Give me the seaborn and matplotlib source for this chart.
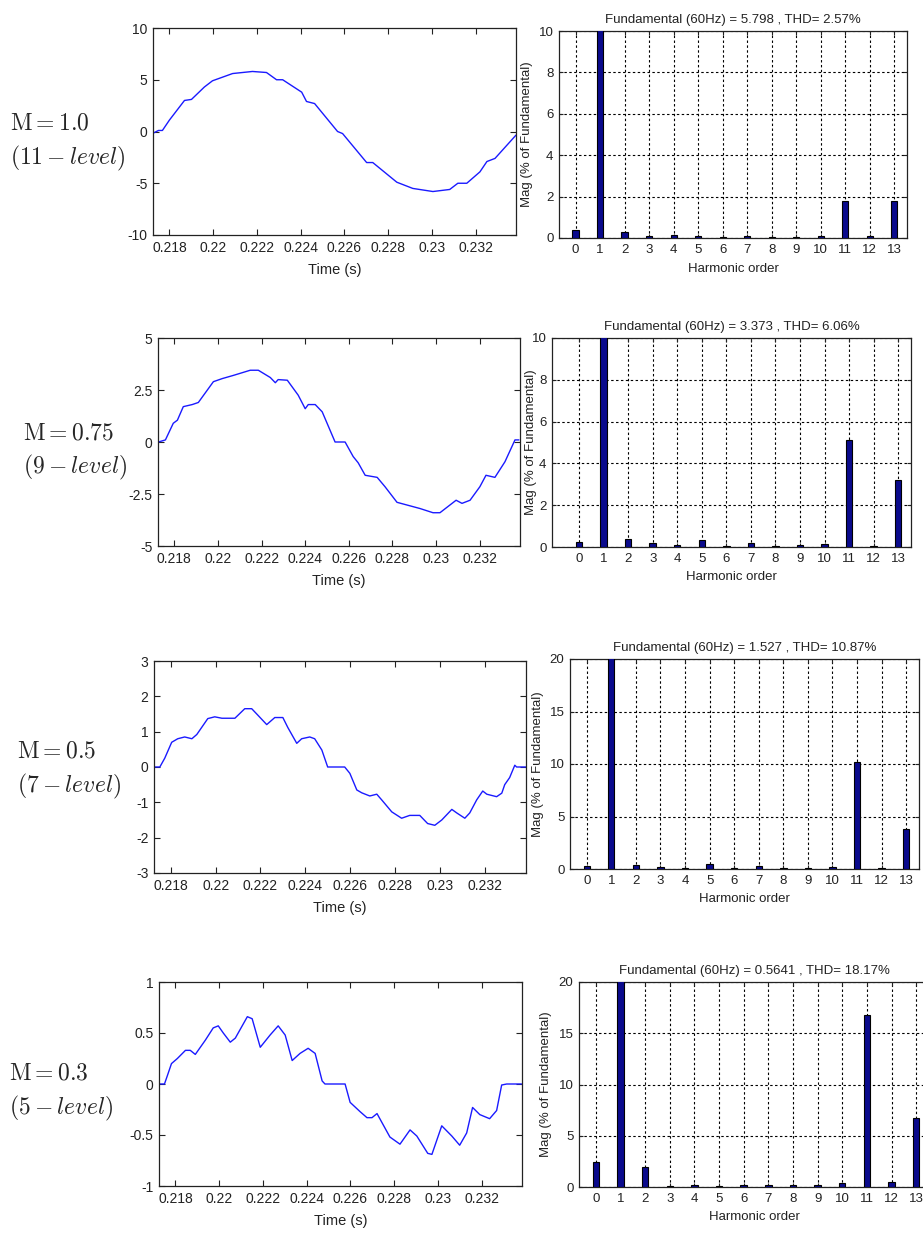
import matplotlib
matplotlib.use("Agg")
import matplotlib.pyplot as plt
import numpy as np
import pandas as pd
import seaborn as sns

# ---------------------------------------------------------------------------
# Output voltage over one fundamental cycle (time in s, voltage)
# ---------------------------------------------------------------------------
t_m100 = [0.21722, 0.21750, 0.21768, 0.21800, 0.21869, 0.21901, 0.21960, 0.21997,
          0.22089, 0.22180, 0.22244, 0.22290, 0.22318, 0.22405, 0.22427, 0.22464,
          0.22569, 0.22592, 0.22702, 0.22730, 0.22840, 0.22913, 0.23005, 0.23082,
          0.23119, 0.23160, 0.23220, 0.23252, 0.23289, 0.23385]
v_m100 = [-0.2, 0.1, 0.1, 1.1, 3.0, 3.1, 4.3, 4.9,
          5.6, 5.8, 5.7, 5.0, 5.0, 3.8, 2.9, 2.7,
          0.0, -0.2, -3.0, -3.0, -4.9, -5.5, -5.8, -5.6,
          -5.0, -5.0, -3.9, -2.9, -2.6, -0.35]

t_m075 = [0.21727, 0.21759, 0.21795, 0.21814, 0.21841, 0.21882, 0.21910, 0.21979,
          0.22020, 0.22070, 0.22148, 0.22185, 0.22240, 0.22263, 0.22276, 0.22318,
          0.22368, 0.22400, 0.22414, 0.22446, 0.22478, 0.22537, 0.22583, 0.22620,
          0.22643, 0.22675, 0.22730, 0.22766, 0.22821, 0.22927, 0.22986, 0.23018,
          0.23055, 0.23092, 0.23119, 0.23156, 0.23201, 0.23229, 0.23270, 0.23316,
          0.23362, 0.23380]
v_m075 = [0.0, 0.1, 0.9, 1.05, 1.7, 1.8, 1.9, 2.9,
          3.05, 3.2, 3.45, 3.45, 3.1, 2.85, 3.0, 2.97,
          2.25, 1.6, 1.8, 1.8, 1.45, 0.0, 0.0, -0.7,
          -1.0, -1.6, -1.7, -2.15, -2.9, -3.2, -3.4, -3.4,
          -3.1, -2.8, -2.95, -2.8, -2.15, -1.6, -1.7, -0.95,
          0.1, 0.1]

t_m050 = [0.21729, 0.21751, 0.21773, 0.21804, 0.21831, 0.21862, 0.21894, 0.21916,
          0.21965, 0.21996, 0.22028, 0.22086, 0.22130, 0.22161, 0.22188, 0.22228,
          0.22264, 0.22300, 0.22322, 0.22362, 0.22384, 0.22420, 0.22442, 0.22474,
          0.22500, 0.22576, 0.22599, 0.22630, 0.22652, 0.22688, 0.22719, 0.22741,
          0.22786, 0.22830, 0.22866, 0.22911, 0.22946, 0.22978, 0.23009, 0.23054,
          0.23076, 0.23112, 0.23134, 0.23165, 0.23192, 0.23210, 0.23254, 0.23277,
          0.23290, 0.23312, 0.23335, 0.23343, 0.23384]
v_m050 = [0.0, 0.0, 0.25, 0.7, 0.8, 0.85, 0.8, 0.92,
          1.37, 1.42, 1.38, 1.38, 1.65, 1.65, 1.47, 1.2,
          1.4, 1.4, 1.12, 0.67, 0.8, 0.85, 0.8, 0.48,
          0.0, 0.0, -0.18, -0.65, -0.73, -0.82, -0.77, -0.93,
          -1.27, -1.45, -1.37, -1.37, -1.6, -1.65, -1.5, -1.2,
          -1.3, -1.45, -1.3, -0.93, -0.68, -0.77, -0.84, -0.74,
          -0.5, -0.3, 0.05, 0.0, 0.0]

t_m030 = [0.21727, 0.21750, 0.21763, 0.21782, 0.21809, 0.21846, 0.21868, 0.21891,
          0.21937, 0.21973, 0.21996, 0.22019, 0.22051, 0.22074, 0.22129, 0.22151,
          0.22188, 0.22233, 0.22270, 0.22302, 0.22334, 0.22370, 0.22407, 0.22439,
          0.22471, 0.22484, 0.22576, 0.22599, 0.22644, 0.22676, 0.22699, 0.22722,
          0.22781, 0.22827, 0.22873, 0.22904, 0.22954, 0.22973, 0.23018, 0.23064,
          0.23100, 0.23132, 0.23159, 0.23192, 0.23237, 0.23269, 0.23292, 0.23315,
          0.23383]
v_m030 = [0.0, 0.0, 0.08, 0.2, 0.25, 0.33, 0.33, 0.29,
          0.43, 0.55, 0.57, 0.5, 0.41, 0.45, 0.66, 0.64,
          0.36, 0.48, 0.57, 0.48, 0.23, 0.3, 0.35, 0.3,
          0.03, 0.0, 0.0, -0.18, -0.27, -0.33, -0.33, -0.29,
          -0.52, -0.59, -0.45, -0.51, -0.68, -0.69, -0.41, -0.51,
          -0.6, -0.48, -0.23, -0.3, -0.34, -0.26, -0.01, 0.0,
          0.0]

# ---------------------------------------------------------------------------
# FFT harmonic spectra (% of fundamental)
# ---------------------------------------------------------------------------
harmonic_orders = list(range(14))
mag_m100 = [0.38, 100, 0.28, 0.08, 0.13, 0.08, 0.03, 0.08, 0.03, 0.03, 0.08, 1.8, 0.08, 1.8]
mag_m075 = [0.22, 100, 0.38, 0.18, 0.08, 0.33, 0.03, 0.18, 0.03, 0.08, 0.13, 5.1, 0.03, 3.2]
mag_m050 = [0.3, 100, 0.4, 0.2, 0.05, 0.5, 0.05, 0.3, 0.05, 0.05, 0.2, 10.2, 0.05, 3.8]
mag_m030 = [2.4, 100, 2.0, 0.05, 0.2, 0.05, 0.2, 0.2, 0.2, 0.2, 0.4, 16.8, 0.5, 6.7]

spectrum_titles = [
    "Fundamental (60Hz) = 5.798 , THD= 2.57%",
    "Fundamental (60Hz) = 3.373 , THD= 6.06%",
    "Fundamental (60Hz) = 1.527 , THD= 10.87%",
    "Fundamental (60Hz) = 0.5641 , THD= 18.17%",
]
index_labels = [r"$\mathrm{M}=1.0$", r"$\mathrm{M}=0.75$", r"$\mathrm{M}=0.5$", r"$\mathrm{M}=0.3$"]
level_labels = [r"$(11-level)$", r"$(9-level)$", r"$(7-level)$", r"$(5-level)$"]

time_ticks = [0.218, 0.220, 0.222, 0.224, 0.226, 0.228, 0.230, 0.232]
time_tick_labels = ["0.218", "0.22", "0.222", "0.224", "0.226", "0.228", "0.23", "0.232"]
volt_ticks = [[-10, -5, 0, 5, 10], [-5, -2.5, 0, 2.5, 5], [-3, -2, -1, 0, 1, 2, 3], [-1, -0.5, 0, 0.5, 1]]
volt_tick_labels = [["-10", "-5", "0", "5", "10"], ["-5", "-2.5", "0", "2.5", "5"],
                    ["-3", "-2", "-1", "0", "1", "2", "3"], ["-1", "-0.5", "0", "0.5", "1"]]
mag_ticks = [[0, 2, 4, 6, 8, 10], [0, 2, 4, 6, 8, 10], [0, 5, 10, 15, 20], [0, 5, 10, 15, 20]]

waves = [(t_m100, v_m100), (t_m075, v_m075), (t_m050, v_m050), (t_m030, v_m030)]
spectra = [mag_m100, mag_m075, mag_m050, mag_m030]

# ---------------------------------------------------------------------------
sns.set_theme(style="ticks")
plt.rcParams["font.family"] = ["Liberation Sans", "DejaVu Sans"]
plt.rcParams["mathtext.fontset"] = "cm"
plt.rcParams["axes.unicode_minus"] = False
plt.rcParams["xtick.direction"] = "in"
plt.rcParams["ytick.direction"] = "in"

W, H = 923, 1236
fig = plt.figure(figsize=(W / 100, H / 100), dpi=100)
fig.patch.set_facecolor("white")


def px_axes(left, right, top, bottom):
    return fig.add_axes([left / W, 1 - bottom / H, (right - left) / W, (bottom - top) / H])


# pixel boxes: (left, right, top, bottom)
wave_boxes = [(153, 516, 28, 235), (158, 520, 338, 546), (154, 526, 661, 873), (159, 522, 982, 1186)]
spec_boxes = [(559, 907, 31, 238), (552, 911, 338, 547), (570, 919, 659, 869), (579, 929, 982, 1187)]
spec_xmin = [-0.68, -1.1, -0.68, -0.68]
# right edge (px) of the rotated "Mag" label
mag_label_x = [533, 537, 544, 552]
label_pos = [(10, 123, 158), (23, 433, 467), (17, 752, 786), (9, 1073, 1108)]

wave_color = "#1a1aff"
bar_face = "#0a0a8c"
ink = "#222222"

for i in range(4):
    # --- waveform panel ---
    ax = px_axes(*wave_boxes[i])
    df = pd.DataFrame({"t": waves[i][0], "v": waves[i][1]})
    sns.lineplot(data=df, x="t", y="v", ax=ax, color=wave_color, linewidth=1.0,
                 estimator=None, sort=False)
    ax.set_xlim(0.21725, 0.23385)
    ax.set_ylim(volt_ticks[i][0], volt_ticks[i][-1])
    ax.set_xticks(time_ticks)
    ax.set_xticklabels(time_tick_labels)
    ax.set_yticks(volt_ticks[i])
    ax.set_yticklabels(volt_tick_labels[i])
    ax.tick_params(axis="both", which="both", direction="in", top=True, right=True,
                   length=4, width=0.8, labelsize=10, colors=ink, pad=4)
    ax.set_xlabel("Time (s)", fontsize=10.5, color=ink, labelpad=6)
    ax.set_ylabel("")
    for s in ax.spines.values():
        s.set_visible(True)
        s.set_color(ink)
        s.set_linewidth(0.9)

    # --- modulation index labels ---
    lx, y1, y2 = label_pos[i]
    fig.text(lx / W, 1 - y1 / H, index_labels[i], fontsize=17, ha="left", va="center")
    fig.text(lx / W, 1 - y2 / H, level_labels[i], fontsize=17, ha="left", va="center")

    # --- harmonic spectrum panel ---
    left, right, top, bottom = spec_boxes[i]
    bx = px_axes(left, right, top, bottom)
    sdf = pd.DataFrame({"order": harmonic_orders, "mag": spectra[i]})
    sns.barplot(data=sdf, x="order", y="mag", ax=bx, native_scale=True, width=0.26,
                color=bar_face, saturation=1, edgecolor="black", linewidth=0.8, zorder=3)
    bx.set_xlim(spec_xmin[i], 13.52)
    bx.set_ylim(mag_ticks[i][0], mag_ticks[i][-1])
    bx.set_xticks(harmonic_orders)
    bx.set_xticklabels([str(h) for h in harmonic_orders])
    bx.set_yticks(mag_ticks[i])
    bx.grid(True, color="black", linestyle=(0, (2.2, 2.2)), linewidth=0.8, zorder=1)
    bx.set_axisbelow(True)
    bx.tick_params(axis="both", which="both", direction="in", top=True, right=True,
                   length=3, width=0.8, labelsize=9.5, colors=ink, pad=4)
    bx.set_xlabel("Harmonic order", fontsize=9.5, color=ink, labelpad=5)
    bx.set_ylabel("Mag (% of Fundamental)", fontsize=9.5, color=ink)
    bx.yaxis.set_label_coords((mag_label_x[i] - left) / (right - left), 0.5)
    bx.set_title(spectrum_titles[i], fontsize=9.5, color=ink, pad=6)
    for s in bx.spines.values():
        s.set_visible(True)
        s.set_color(ink)
        s.set_linewidth(0.9)

fig.savefig("out.png", dpi=100, facecolor="white")
